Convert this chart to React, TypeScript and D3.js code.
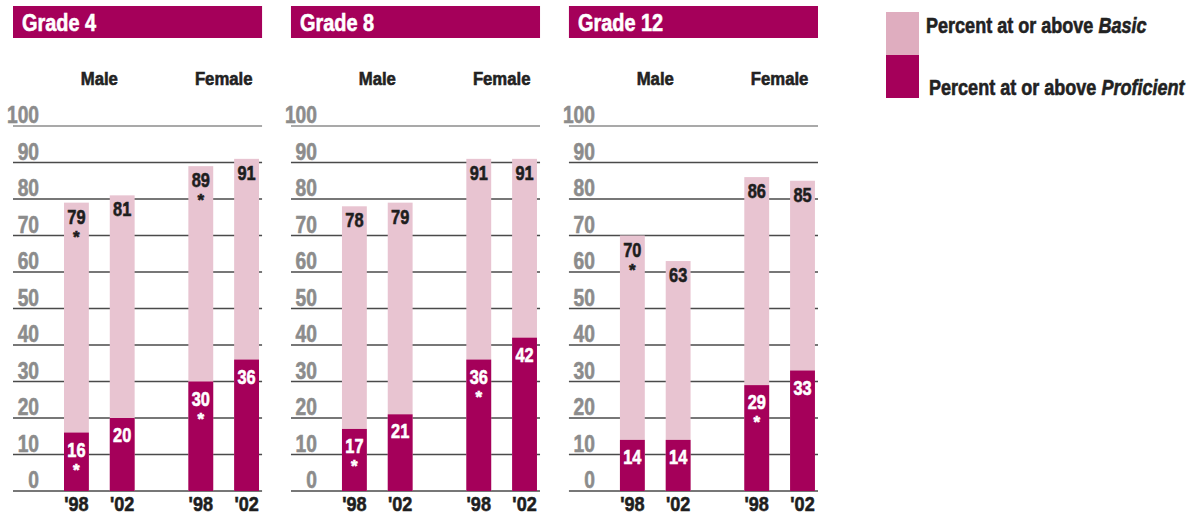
import React from 'react';
import * as d3 from 'd3';

const grades = ['Grade 4', 'Grade 8', 'Grade 12'];
const genders = ['Male', 'Female'];
const years = ["'98", "'02"];

// values per grade, order: Male '98, Male '02, Female '98, Female '02
const basicValues = [
    [79, 81, 89, 91],
    [78, 79, 91, 91],
    [70, 63, 86, 85],
];
const proficientValues = [
    [16, 20, 30, 36],
    [17, 21, 36, 42],
    [14, 14, 29, 33],
];
// significantly different from 2002 (asterisk)
const basicStars = [
    [true, false, true, false],
    [false, false, false, false],
    [true, false, false, false],
];
const proficientStars = [
    [true, false, true, false],
    [true, false, true, false],
    [false, false, true, false],
];
const yTicks = [0, 10, 20, 30, 40, 50, 60, 70, 80, 90, 100];
const legendLabels = ['Basic', 'Proficient'];

const DARK = '#a5005a';
const LIGHT = '#e8c4d1';
const FONT = "'Liberation Sans', Arial, sans-serif";

// condensed heavy look: squeeze the text horizontally, thicken with a stroke
function T(props: any) {
    const { x, y, sx = 0.82, fill, children, ...rest } = props;
    return (
        <text transform={`translate(${x},${y}) scale(${sx},1)`} fontWeight="bold"
            fill={fill} stroke={fill} strokeWidth={0.6} {...rest}>
            {children}
        </text>
    );
}

export default function App() {
    const width = 1194;
    const height = 516;

    const panelX = d3.scaleBand().domain(grades).range([13, 818]).paddingInner(0.104);
    const panelW = panelX.bandwidth();

    const yScale = d3.scaleLinear().domain([0, 100]).range([491, 126]);

    const groupX = d3.scaleBand().domain(genders).range([51, 246]).paddingInner(0.432);
    const yearX = d3.scaleBand().domain(years).range([0, groupX.bandwidth()]).paddingInner(0.457);
    const barW = yearX.bandwidth();

    return (
        <svg width={width} height={height} style={{ position: 'absolute', left: 0, top: 0 }} fontFamily={FONT}>
            <rect width={width} height={height} fill="#fff" />
            {grades.map((grade, gi) => {
                const px = panelX(grade)!;
                return (
                    <g key={grade} transform={`translate(${px},0)`}>
                        <rect x={0} y={6} width={panelW} height={32} fill={DARK} />
                        <T x={9} y={31} fill="#fff" fontSize={24} sx={0.83}>{grade}</T>

                        {yTicks.map(t => (
                            <g key={t}>
                                <line x1={0} x2={panelW} y1={yScale(t)} y2={yScale(t)}
                                    stroke={t === 100 ? '#8c8c8c' : '#4a4a4a'} strokeWidth={1.6} />
                                <T x={26} y={yScale(t) - 3} textAnchor="end" fill="#8c8c8c"
                                    fontSize={24} sx={0.8}>{t}</T>
                            </g>
                        ))}

                        {genders.map((gender, si) => {
                            const gx = groupX(gender)!;
                            return (
                                <g key={gender}>
                                    <T x={gx + groupX.bandwidth() / 2} y={85} textAnchor="middle"
                                        fill="#222" fontSize={19} sx={0.88}>{gender}</T>
                                    {years.map((yr, yi) => {
                                        const k = si * 2 + yi;
                                        const bx = gx + yearX(yr)!;
                                        const cx = bx + barW / 2;
                                        const b = basicValues[gi][k];
                                        const p = proficientValues[gi][k];
                                        return (
                                            <g key={yr}>
                                                <rect x={bx} y={yScale(b)} width={barW} height={yScale(0) - yScale(b)} fill={LIGHT} />
                                                <rect x={bx} y={yScale(p)} width={barW} height={yScale(0) - yScale(p)} fill={DARK} />
                                                <T x={cx} y={yScale(b) + 21} textAnchor="middle" fill="#1e1e1e"
                                                    fontSize={21} sx={0.78}>{b}</T>
                                                {basicStars[gi][k] && (
                                                    <T x={cx} y={yScale(b) + 40} textAnchor="middle" fill="#1e1e1e"
                                                        fontSize={17} sx={1}>*</T>
                                                )}
                                                <T x={cx} y={yScale(p) + 24} textAnchor="middle" fill="#fff"
                                                    fontSize={21} sx={0.78}>{p}</T>
                                                {proficientStars[gi][k] && (
                                                    <T x={cx} y={yScale(p) + 43} textAnchor="middle" fill="#fff"
                                                        fontSize={17} sx={1}>*</T>
                                                )}
                                                <T x={cx} y={511} textAnchor="middle" fill="#1e1e1e"
                                                    fontSize={21} sx={0.86}>{yr}</T>
                                            </g>
                                        );
                                    })}
                                </g>
                            );
                        })}
                    </g>
                );
            })}

            <g>
                <rect x={886} y={12} width={33} height={43} fill="#dfadbf" />
                <rect x={886} y={55} width={33} height={43} fill={DARK} />
                <T x={926} y={33} fill="#222" fontSize={22} sx={0.82}>
                    Percent at or above <tspan fontStyle="italic">{legendLabels[0]}</tspan>
                </T>
                <T x={929} y={95} fill="#222" fontSize={22} sx={0.82}>
                    Percent at or above <tspan fontStyle="italic">{legendLabels[1]}</tspan>
                </T>
            </g>
        </svg>
    );
}
